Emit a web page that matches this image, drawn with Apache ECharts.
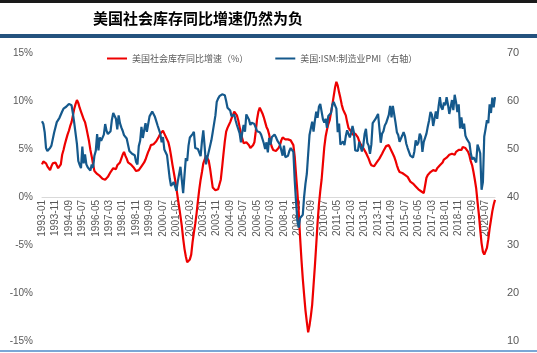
<!DOCTYPE html>
<html>
<head>
<meta charset="utf-8">
<script src="https://cdn.jsdelivr.net/npm/echarts@6/dist/echarts.min.js"></script>
<style>
html, body { margin: 0; padding: 0; background: #fff; }
#main { width: 537px; height: 353px; }
</style>
</head>
<body>
<div id="main"></div>
<script>
// 月份 1993-01 ~ 2021-02
var startYear = 1993, endYear = 2021, endMonth = 2;
var months = [];
for (var y = startYear; y <= endYear; y++) {
    for (var m = 1; m <= 12; m++) {
        if (y === endYear && m > endMonth) break;
        months.push(y + '-' + (m < 10 ? '0' + m : m));
    }
}

var leftTicks = [-15, -10, -5, 0, 5, 10, 15];
var rightTicks = [10, 20, 30, 40, 50, 60, 70];
var seriesNames = ['美国社会库存同比增速（%）', '美国:ISM:制造业PMI（右轴）'];

// 美国社会库存同比增速（%）
var inventoryYoy = [
    3.4, 3.7, 3.9, 3.5, 3.2, 3.0, 2.8, 3.2, 3.5, 3.4, 3.6, 3.3,
    3.0, 2.8, 3.4, 4.4, 4.9, 5.5, 6.0, 6.5, 6.9, 7.4, 7.8, 8.5,
    9.2, 9.7, 10.1, 9.8, 9.3, 8.9, 8.5, 8.1, 7.8, 7.2, 6.5, 5.8,
    4.9, 4.2, 3.4, 2.7, 2.6, 2.4, 2.3, 2.2, 2.0, 1.9, 1.8, 1.8,
    1.9, 2.1, 2.3, 2.6, 2.8, 3.0, 3.1, 2.9, 3.3, 3.5, 3.6, 4.0,
    4.4, 4.7, 4.3, 4.0, 3.6, 3.5, 3.4, 3.3, 3.1, 2.9, 2.7, 2.6,
    2.8, 3.0, 3.2, 3.4, 3.6, 3.9, 4.3, 4.7, 5.0, 5.4, 5.3, 5.5,
    5.7, 5.8, 6.0, 6.3, 6.6, 6.8, 6.9, 6.6, 6.3, 6.0, 5.7, 5.1,
    4.3, 3.4, 2.6, 1.8, 0.9, -0.1, -1.0, -2.0, -3.0, -4.3, -5.4, -6.2,
    -6.8, -6.9, -6.5, -6.0, -4.7, -3.7, -2.8, -1.7, -0.4, 0.8, 1.8, 2.6,
    3.5, 3.9, 4.3, 4.4, 3.8, 3.0, 2.0, 1.0, 0.8, 0.7, 0.6, 0.8,
    1.0, 1.8, 3.1, 4.5, 5.8, 6.8, 7.2, 7.5, 7.8, 8.2, 8.5, 8.9,
    8.8, 8.5, 8.0, 7.3, 6.6, 6.1, 5.6, 5.5, 5.7, 5.8, 5.4, 5.1,
    5.2, 5.4, 5.7, 6.8, 8.1, 8.9, 9.3, 9.1, 8.7, 8.3, 7.8, 7.3,
    7.0, 6.5, 5.7, 5.2, 4.9, 4.7, 4.8, 5.0, 5.1, 5.4, 5.9, 6.2,
    6.3, 6.0, 5.9, 6.0, 6.1, 5.9, 5.7, 5.4, 4.2, 2.3, 0.5, -1.6,
    -4.2, -6.5, -8.5, -10.2, -11.8, -13.0, -14.1, -13.4, -12.4, -11.2, -9.2, -7.2,
    -5.0, -2.7, -0.8, 0.6, 1.8, 3.5, 5.2, 6.3, 7.0, 7.6, 8.0, 8.8,
    9.6, 10.5, 11.4, 12.0, 11.6, 10.9, 10.3, 9.6, 9.1, 8.8, 8.5, 7.8,
    7.2, 7.0, 6.8, 6.5, 6.4, 6.6, 6.7, 6.2, 5.8, 5.5, 5.3, 5.1,
    4.9, 4.6, 4.3, 4.0, 3.6, 3.3, 3.1, 3.2, 3.4, 3.6, 3.8, 4.0,
    4.2, 4.5, 4.8, 5.0, 5.3, 5.5, 5.4, 5.2, 4.8, 4.5, 4.2, 3.8,
    3.3, 2.9, 2.6, 2.7, 2.5, 2.4, 2.3, 2.4, 2.1, 2.0, 1.6, 1.7,
    1.4, 1.2, 1.1, 1.0, 0.8, 0.7, 0.6, 0.5, 0.4, 1.2, 2.0, 2.3,
    2.5, 2.6, 2.4, 2.8, 2.9, 2.7, 3.0, 3.1, 3.3, 3.4, 3.6, 3.9,
    3.8, 4.1, 4.0, 4.4, 4.3, 4.5, 4.6, 4.4, 4.7, 4.8, 4.9, 5.0,
    4.9, 5.2, 5.0, 5.1, 4.9, 4.7, 4.3, 3.7, 3.3, 2.6, 1.8, 0.9,
    -0.5, -1.8, -3.4, -4.8, -5.7, -6.0, -5.8, -5.3, -4.4, -3.3, -2.4, -1.5,
    -0.8, -0.3
];

// 美国:ISM:制造业PMI（右轴）
var ismPmi = [
    55.8, 55.2, 53.5, 50.2, 49.6, 49.6, 50.2, 50.7, 50.8, 53.4, 53.8, 55.6,
    56.0, 56.5, 56.9, 57.8, 58.4, 58.2, 58.8, 58.7, 59.4, 59.6, 59.1, 57.4,
    55.4, 53.2, 51.0, 47.5, 46.7, 46.0, 50.5, 47.0, 48.9, 46.8, 46.2, 46.4,
    45.5, 46.8, 46.1, 48.6, 49.6, 53.1, 49.7, 52.4, 51.7, 51.3, 53.0, 55.2,
    53.8, 53.1, 53.4, 53.7, 56.1, 57.5, 57.7, 56.3, 54.1, 57.0, 55.4, 54.5,
    53.8, 52.9, 52.9, 52.2, 50.9, 49.6, 49.2, 49.0, 48.7, 48.7, 47.3, 46.8,
    50.6, 51.7, 54.6, 52.3, 53.9, 55.4, 53.6, 54.0, 56.8, 57.2, 57.8, 57.8,
    56.7, 55.8, 54.9, 54.7, 53.2, 51.4, 52.5, 49.9, 49.7, 48.7, 48.5, 43.9,
    42.3, 41.9, 43.1, 43.2, 41.3, 43.2, 43.5, 46.3, 46.2, 40.8, 44.5, 48.1,
    47.5, 50.7, 52.4, 52.4, 53.1, 53.6, 50.2, 50.3, 50.0, 49.6, 48.5, 51.6,
    53.9, 50.5, 46.8, 46.4, 49.4, 49.8, 51.8, 53.5, 53.2, 57.0, 59.8, 60.5,
    61.0, 61.2, 61.4, 61.0, 61.2, 60.0, 58.6, 58.5, 58.0, 56.8, 57.0, 57.2,
    56.0, 55.0, 55.2, 53.3, 51.4, 53.5, 55.0, 53.6, 57.2, 57.0, 56.1, 55.0,
    55.5, 55.8, 55.2, 55.6, 53.7, 53.8, 53.5, 53.0, 52.9, 51.2, 50.0, 51.4,
    49.3, 52.3, 50.9, 52.5, 52.6, 53.0, 52.5, 51.8, 51.6, 50.9, 50.8, 48.6,
    50.7, 48.3, 48.6, 48.6, 49.6, 50.2, 50.0, 49.4, 43.5, 38.9, 35.0, 33.6,
    35.6, 35.8, 36.3, 40.1, 42.8, 44.8, 48.9, 52.9, 52.6, 55.7, 53.6, 55.9,
    57.8, 56.5, 58.8, 59.4, 59.0, 56.2, 55.5, 56.3, 54.4, 56.9, 56.6, 57.5,
    59.2, 59.8, 59.1, 58.4, 53.5, 55.3, 50.9, 50.6, 51.6, 50.8, 52.7, 53.9,
    54.1, 52.4, 53.4, 54.8, 53.5, 49.7, 49.8, 49.6, 51.5, 51.7, 49.5, 50.7,
    53.1, 54.2, 51.3, 50.7, 49.0, 50.9, 55.4, 55.7, 56.2, 56.4, 57.3, 57.0,
    51.3, 53.2, 53.7, 54.9, 55.4, 55.3, 57.1, 59.0, 56.6, 59.0, 58.7, 55.5,
    53.5, 52.9, 51.5, 51.5, 52.8, 53.5, 52.7, 51.1, 50.2, 50.1, 48.6, 48.2,
    48.2, 49.5, 51.8, 50.8, 51.3, 53.2, 52.6, 49.4, 51.5, 51.9, 53.2, 54.7,
    56.0, 57.7, 57.2, 54.8, 54.9, 57.8, 56.3, 58.8, 60.8, 58.7, 58.2, 59.7,
    59.1, 60.8, 59.3, 57.3, 58.7, 60.2, 58.1, 61.3, 59.8, 57.7, 59.3, 54.3,
    56.6, 54.2, 55.3, 52.8, 52.1, 51.7, 51.2, 49.1, 47.8, 48.3, 48.1, 47.2,
    50.9, 50.1, 49.1, 41.5, 43.1, 52.6, 54.2, 56.0, 55.4, 59.3, 57.5, 60.7,
    58.7, 60.8
];

var labelColor = '#595959';
var cnFont = '"Noto Sans CJK SC", "Noto Sans", sans-serif';

var option = {
    animation: false,
    backgroundColor: '#fff',
    textStyle: { fontFamily: cnFont },
    title: {
        text: '美国社会库存同比增速仍然为负',
        left: 88,
        top: 6,
        textStyle: {
            fontSize: 15,
            fontWeight: 'bold',
            color: '#000',
            fontFamily: cnFont
        }
    },
    graphic: [
        // 顶部黑边
        { type: 'rect', left: 0, top: 0, shape: { width: 537, height: 3 }, style: { fill: '#1a1a1a' } },
        // 标题下方蓝色横条
        { type: 'rect', left: 0, top: 34, shape: { width: 537, height: 4 }, style: { fill: '#24527e' } },
        // 底部浅蓝线
        { type: 'rect', left: 0, top: 350, shape: { width: 537, height: 2 }, style: { fill: '#7aa7d6' } }
    ],
    legend: {
        left: 102,
        top: 49,
        icon: 'rect',
        itemWidth: 20,
        itemHeight: 2,
        itemGap: 27,
        textStyle: { color: labelColor, fontSize: 9, fontFamily: cnFont },
        data: seriesNames
    },
    grid: {
        left: 42,
        right: 42,
        top: 53,
        bottom: 12,
        containLabel: false,
        outerBoundsMode: 'none'
    },
    xAxis: [{
        type: 'category',
        boundaryGap: false,
        data: months,
        // 分类轴放在 0% 位置
        offset: -144,
        axisLine: {
            onZero: false,
            lineStyle: { color: '#d9d9d9', width: 1 }
        },
        axisTick: { show: false },
        axisLabel: {
            interval: 9,
            rotate: 90,
            color: labelColor,
            fontSize: 10,
            margin: 3,
            fontFamily: 'Liberation Sans, Arial, sans-serif'
        },
        splitLine: { show: false }
    }],
    yAxis: [{
        type: 'value',
        min: leftTicks[0],
        max: leftTicks[leftTicks.length - 1],
        interval: 5,
        axisLine: { show: false },
        axisTick: { show: false },
        splitLine: { show: false },
        axisLabel: {
            formatter: '{value}%',
            color: labelColor,
            fontSize: 10,
            margin: 9,
            fontFamily: 'Liberation Sans, Arial, sans-serif'
        }
    }, {
        type: 'value',
        position: 'right',
        min: rightTicks[0],
        max: rightTicks[rightTicks.length - 1],
        interval: 10,
        axisLine: { show: false },
        axisTick: { show: false },
        splitLine: { show: false },
        axisLabel: {
            color: labelColor,
            fontSize: 11,
            margin: 12,
            fontFamily: 'Liberation Sans, Arial, sans-serif'
        }
    }],
    series: [{
        name: seriesNames[0],
        type: 'line',
        yAxisIndex: 0,
        data: inventoryYoy,
        symbol: 'none',
        lineStyle: { color: '#ee0000', width: 2.2 },
        itemStyle: { color: '#ee0000' }
    }, {
        name: seriesNames[1],
        type: 'line',
        yAxisIndex: 1,
        data: ismPmi,
        symbol: 'none',
        lineStyle: { color: '#15598c', width: 2.2 },
        itemStyle: { color: '#15598c' }
    }]
};

var myChart = echarts.init(document.getElementById('main'));
myChart.setOption(option);
</script>
</body>
</html>
